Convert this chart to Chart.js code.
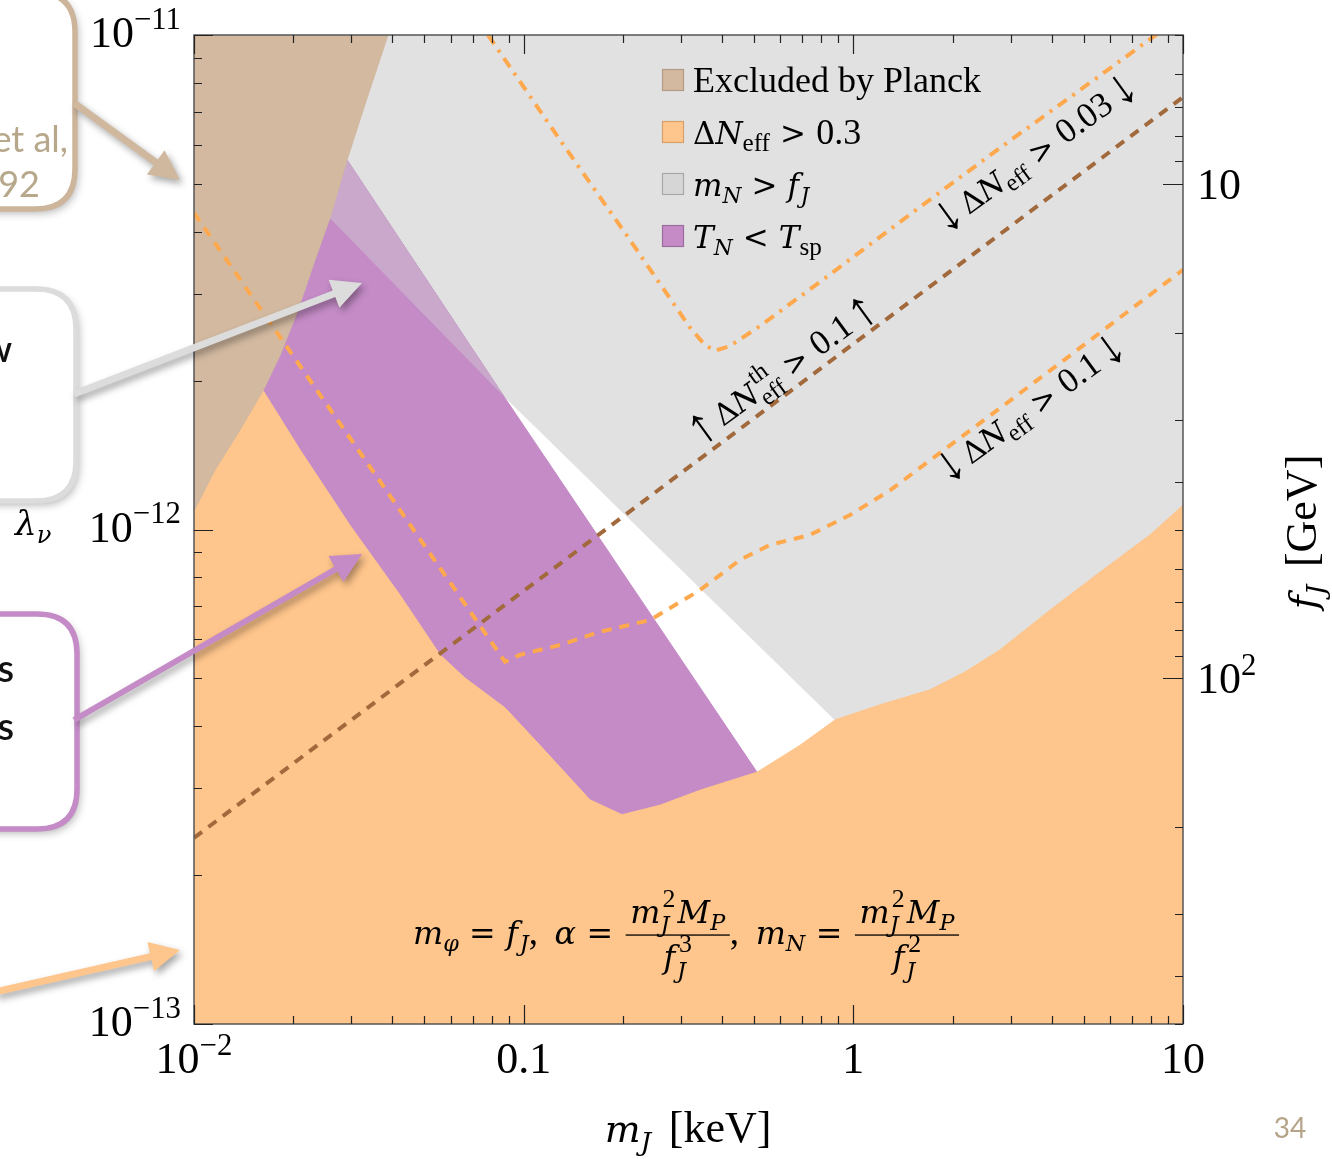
<!DOCTYPE html>
<html><head><meta charset="utf-8">
<script src="https://cdn.jsdelivr.net/npm/chart.js@4.4.1/dist/chart.umd.min.js"></script>
<style>html,body{margin:0;padding:0;background:#fff;overflow:hidden}canvas{display:block}</style>
</head><body>
<canvas id="c" width="1332" height="1159"></canvas>
<script>
// ---------- DATA (m_J in keV on x, lambda_nu on y) ----------
const planckX = [0.01, 0.03877, 0.03372, 0.02912, 0.02585, 0.02328, 0.02068, 0.01824, 0.0162, 0.01379, 0.01158, 0.01, 0.01];
const planckY = [1e-11, 1e-11, 7.56e-12, 5.59e-12, 4.27e-12, 3.51e-12, 2.78e-12, 2.25e-12, 1.91e-12, 1.59e-12, 1.32e-12, 1.09e-12, 1e-11];

const grayX = [0.01, 10, 10, 1.205, 0.8801, 0.08656, 0.02585, 0.01, 0.01];
const grayY = [1e-11, 1e-11, 1e-13, 1e-13, 4.12e-13, 1.87e-12, 4.27e-12, 4.27e-12, 1e-11];

const purpleX = [0.02912, 0.08656, 0.5104, 0.5104, 0.01, 0.01, 0.02912];
const purpleY = [5.59e-12, 1.87e-12, 3.23e-13, 1.78e-13, 1.78e-13, 5.59e-12, 5.59e-12];

const overlapX = [0.02912, 0.08656, 0.02585, 0.02411, 0.02773, 0.02912];
const overlapY = [5.59e-12, 1.87e-12, 4.27e-12, 4.27e-12, 5.59e-12, 5.59e-12];

const orangeX = [0.01, 0.01, 0.0162, 0.02097, 0.02972, 0.04216, 0.05576, 0.06637, 0.08778, 0.1121, 0.1589, 0.1988, 0.2591, 0.3426, 0.5104, 0.689, 0.8801, 1.205, 1.709, 2.182, 2.786, 3.951, 5.601, 7.941, 10, 10, 0.01];
const orangeY = [1e-13, 1.32e-12, 1.91e-12, 1.45e-12, 1.02e-12, 7.37e-13, 5.58e-13, 5.01e-13, 4.36e-13, 3.66e-13, 2.84e-13, 2.65e-13, 2.77e-13, 2.97e-13, 3.23e-13, 3.66e-13, 4.12e-13, 4.42e-13, 4.74e-13, 5.15e-13, 5.71e-13, 6.87e-13, 8.20e-13, 9.75e-13, 1.12e-12, 1e-13, 1e-13];

const thX = [0.01, 10];
const thY = [2.38e-13, 7.49e-12];

const dn01X = [0.01, 0.08778, 0.09748, 0.129, 0.1704, 0.2417, 0.3426, 0.4531, 0.5588, 0.7387, 0.977, 1.292, 1.709, 2.786, 4.236, 6.906, 10];
const dn01Y = [4.37e-12, 5.40e-13, 5.58e-13, 5.84e-13, 6.21e-13, 6.56e-13, 7.54e-13, 8.68e-13, 9.31e-13, 9.75e-13, 1.07e-12, 1.20e-12, 1.38e-12, 1.76e-12, 2.17e-12, 2.78e-12, 3.35e-12];

const dn003X = [0.07795, 0.129, 0.2101, 0.3196, 0.3548, 0.3805, 0.4226, 0.5212, 0.809, 1.593, 2.786, 4.87, 8.516];
const dn003Y = [1e-11, 6.13e-12, 3.85e-12, 2.56e-12, 2.36e-12, 2.30e-12, 2.35e-12, 2.58e-12, 3.20e-12, 4.49e-12, 5.91e-12, 7.74e-12, 1.014e-11];

// ticks
const xTickVals = [0.01, 0.1, 1, 10];
const xTickLabels = [['10', '−2'], ['0.1', ''], ['1', ''], ['10', '']];
const yTickVals = [1e-13, 1e-12, 1e-11];
const yTickLabels = [['10', '−13'], ['10', '−12'], ['10', '−11']];
const fTickVals = [10, 100];
const fTickLabels = [['10', ''], ['10', '2']];

const legendNames = ['Excluded by Planck', 'ΔN_eff > 0.3', 'm_N > f_J', 'T_N < T_sp'];

// ---------- STYLE ----------
const SERIF = '"Liberation Serif", "DejaVu Serif", serif';
const MATH = '"DejaVu Serif", serif';
const MS = 0.86; // size factor for math glyphs
const SANS = 'Lato, "Open Sans", "Noto Sans", sans-serif';
const C = {
  tan: '#d2b9a0', orange: '#fec58c', gray: '#e1e1e1', purple: '#c48bc6', overlap: '#c9a8cb',
  brown: '#a26a3c', orLine: '#ffa94f'
};

const pts = (xs, ys) => xs.map((x, i) => ({x: x, y: ys[i]}));
function region(data, color, order) {
  return {data: data, showLine: true, fill: 'shape', backgroundColor: color, borderColor: color,
    borderWidth: 1, pointRadius: 0, tension: 0, order: order};
}
function curve(data, color, dash, order) {
  return {data: data, showLine: true, fill: false, borderColor: color, borderWidth: 4,
    borderDash: dash, pointRadius: 0, tension: 0, order: order, borderCapStyle: 'butt'};
}

// ---------- rich text ----------
function segFont(s, size) {
  let sz = (s.sub || s.sup) ? size * 0.7 : size;
  if (s.k) sz *= s.k;
  if (s.it || s.m) return (s.it ? 'italic ' : '') + (sz * MS).toFixed(1) + 'px ' + MATH;
  return sz.toFixed(1) + 'px ' + SERIF;
}
function segW(ctx, s, size) {
  if (s.gap !== undefined) return s.gap * size;
  ctx.font = segFont(s, size);
  let w = ctx.measureText(s.t).width;
  if (s.sup2) { ctx.font = (size * 0.7).toFixed(1) + 'px ' + SERIF; w = Math.max(w, ctx.measureText(s.sup2).width + 2); }
  return w;
}
function segsW(ctx, segs, size) { let w = 0; for (const s of segs) w += segW(ctx, s, size); return w; }
function drawSegs(ctx, x, y, segs, size, align, color) {
  const w = segsW(ctx, segs, size);
  let cx = align === 'center' ? x - w / 2 : (align === 'right' ? x - w : x);
  ctx.fillStyle = color || '#000'; ctx.textAlign = 'left'; ctx.textBaseline = 'alphabetic';
  for (const s of segs) {
    const ww = segW(ctx, s, size);
    if (s.gap === undefined) {
      ctx.font = segFont(s, size);
      const dy = s.sub ? size * (s.sup2 ? 0.26 : 0.2) : (s.sup ? -size * 0.42 : (s.dy || 0) * size);
      ctx.fillText(s.t, cx, y + dy);
      if (s.sup2) { ctx.font = (size * 0.7).toFixed(1) + 'px ' + SERIF; ctx.fillText(s.sup2, cx + 2, y - size * 0.44); }
    }
    cx += ww;
  }
  return w;
}
function drawFrac(ctx, x, axisY, num, den, size) {
  const wn = segsW(ctx, num, size), wd = segsW(ctx, den, size);
  const w = Math.max(wn, wd) + 0.25 * size;
  ctx.fillStyle = '#000';
  ctx.fillRect(x, axisY - 0.6, w, 1.3);
  drawSegs(ctx, x + w / 2, axisY - 0.33 * size, num, size, 'center');
  drawSegs(ctx, x + w / 2, axisY + 0.9 * size, den, size, 'center');
  return w;
}
function rrect(ctx, x, y, w, h, r) {
  ctx.beginPath();
  ctx.moveTo(x + r, y); ctx.lineTo(x + w - r, y); ctx.quadraticCurveTo(x + w, y, x + w, y + r);
  ctx.lineTo(x + w, y + h - r); ctx.quadraticCurveTo(x + w, y + h, x + w - r, y + h);
  ctx.lineTo(x + r, y + h); ctx.quadraticCurveTo(x, y + h, x, y + h - r);
  ctx.lineTo(x, y + r); ctx.quadraticCurveTo(x, y, x + r, y); ctx.closePath();
}
function arrow(ctx, x1, y1, x2, y2, color, w, hl, hw) {
  const a = Math.atan2(y2 - y1, x2 - x1), c = Math.cos(a), s = Math.sin(a);
  const nx = -s, ny = c, bx = x2 - hl * c, by = y2 - hl * s;
  ctx.save();
  ctx.shadowColor = 'rgba(0,0,0,0.35)'; ctx.shadowBlur = 7; ctx.shadowOffsetX = 3; ctx.shadowOffsetY = 4;
  ctx.fillStyle = color;
  ctx.beginPath();
  ctx.moveTo(x1 + nx * w / 2, y1 + ny * w / 2);
  ctx.lineTo(bx + nx * w / 2, by + ny * w / 2);
  ctx.lineTo(bx + nx * hw / 2, by + ny * hw / 2);
  ctx.lineTo(x2, y2);
  ctx.lineTo(bx - nx * hw / 2, by - ny * hw / 2);
  ctx.lineTo(bx - nx * w / 2, by - ny * w / 2);
  ctx.lineTo(x1 - nx * w / 2, y1 - ny * w / 2);
  ctx.closePath(); ctx.fill();
  ctx.restore();
}

const REL = (ch) => [{gap: 0.28}, {t: ch, m: 1}, {gap: 0.28}];

const decor = {
  id: 'decor',
  afterDatasetsDraw(chart) {
    const ctx = chart.ctx, a = chart.chartArea;
    const sx = chart.scales.x, sy = chart.scales.y, sf = chart.scales.y2;
    ctx.save();
    // frame
    ctx.strokeStyle = '#555'; ctx.lineWidth = 1.5;
    ctx.strokeRect(a.left, a.top, a.right - a.left, a.bottom - a.top);
    // ticks
    ctx.strokeStyle = '#222'; ctx.lineWidth = 1.2;
    ctx.beginPath();
    for (let e = -2; e <= 1; e++) for (let k = 1; k <= 9; k++) {
      const v = k * Math.pow(10, e); if (v > 10.001) break;
      const px = Math.round(sx.getPixelForValue(v)) + 0.5, L = k === 1 ? 19 : 8;
      ctx.moveTo(px, a.bottom); ctx.lineTo(px, a.bottom - L);
      ctx.moveTo(px, a.top); ctx.lineTo(px, a.top + L);
    }
    for (let e = -13; e <= -11; e++) for (let k = 1; k <= 9; k++) {
      const v = k * Math.pow(10, e); if (v > 1.0001e-11) break;
      const py = Math.round(sy.getPixelForValue(v)) + 0.5, L = k === 1 ? 19 : 8;
      ctx.moveTo(a.left, py); ctx.lineTo(a.left + L, py);
    }
    for (let e = 0; e <= 2; e++) for (let k = 1; k <= 9; k++) {
      const v = k * Math.pow(10, e); if (v < 5 || v > 500.01) continue;
      const py = Math.round(sf.getPixelForValue(v)) + 0.5, L = k === 1 ? 20 : 8;
      ctx.moveTo(a.right, py); ctx.lineTo(a.right - L, py);
    }
    ctx.stroke();

    // tick labels
    const TS = 44;
    xTickVals.forEach((v, i) => {
      const lab = xTickLabels[i], segs = [{t: lab[0]}];
      if (lab[1]) segs.push({t: lab[1], sup: 1});
      drawSegs(ctx, sx.getPixelForValue(v), 1073, segs, TS, 'center');
    });
    yTickVals.forEach((v, i) => {
      const lab = yTickLabels[i];
      drawSegs(ctx, 181, sy.getPixelForValue(v) + 12, [{t: lab[0]}, {t: lab[1], sup: 1}], TS, 'right');
    });
    fTickVals.forEach((v, i) => {
      const lab = fTickLabels[i], segs = [{t: lab[0]}];
      if (lab[1]) segs.push({t: lab[1], sup: 1});
      drawSegs(ctx, 1197, sf.getPixelForValue(v) + 15, segs, TS, 'left');
    });

    // axis titles
    drawSegs(ctx, 688, 1142, [{t: 'm', it: 1}, {t: 'J', it: 1, sub: 1}, {gap: 0.4}, {t: '[keV]'}], 44, 'center');
    ctx.save(); ctx.translate(1316, 532); ctx.rotate(-Math.PI / 2);
    drawSegs(ctx, 0, 0, [{t: 'f', it: 1}, {t: 'J', it: 1, sub: 1}, {gap: 0.4}, {t: '[GeV]'}], 44, 'center');
    ctx.restore();
    drawSegs(ctx, 15, 535, [{t: 'λ', it: 1}, {t: 'ν', it: 1, sub: 1}], 40, 'left');

    // legend
    const legC = [[C.tan, '#b39b83'], [C.orange, '#d9a06c'], ['#d6d6d6', '#a8a8a8'], [C.purple, '#9b6c9d']];
    const legSegs = [
      [{t: legendNames[0]}],
      [{t: 'Δ', m: 1}, {t: 'N', it: 1}, {t: 'eff', sub: 1}].concat(REL('>'), [{t: '0.3'}]),
      [{t: 'm', it: 1}, {t: 'N', it: 1, sub: 1}].concat(REL('>'), [{t: 'f', it: 1}, {gap: 0.04}, {t: 'J', it: 1, sub: 1}]),
      [{t: 'T', it: 1}, {t: 'N', it: 1, sub: 1}].concat(REL('<'), [{t: 'T', it: 1}, {t: 'sp', sub: 1}])
    ];
    legSegs.forEach((segs, i) => {
      const cy = 80 + i * 52;
      ctx.fillStyle = legC[i][0]; ctx.fillRect(662, cy - 11, 22, 22);
      ctx.strokeStyle = legC[i][1]; ctx.lineWidth = 1.2; ctx.strokeRect(662.5, cy - 10.5, 21, 21);
      drawSegs(ctx, 693, cy + 12, segs, 36, 'left');
    });

    // rotated annotations
    const ang = 36 * Math.PI / 180, AS = 35;
    const arr = (ch) => ({t: ch, k: 1.5, dy: 0.08});
    const ann = [
      [1042, 162, [arr('↓'), {gap: 0.12}, {t: 'Δ', m: 1}, {t: 'N', it: 1}, {t: 'eff', sub: 1}].concat(REL('>'), [{t: '0.03'}, {gap: 0.12}, arr('↓')])],
      [789, 379, [arr('↑'), {gap: 0.12}, {t: 'Δ', m: 1}, {t: 'N', it: 1}, {t: 'eff', sub: 1, sup2: 'th'}].concat(REL('>'), [{t: '0.1'}, {gap: 0.12}, arr('↑')])],
      [1037, 417, [arr('↓'), {gap: 0.12}, {t: 'Δ', m: 1}, {t: 'N', it: 1}, {t: 'eff', sub: 1}].concat(REL('>'), [{t: '0.1'}, {gap: 0.12}, arr('↓')])]
    ];
    ann.forEach(([x, y, segs]) => {
      ctx.save(); ctx.translate(x, y); ctx.rotate(-ang);
      drawSegs(ctx, 0, 0, segs, AS, 'center'); ctx.restore();
    });

    // formula
    const FS = 37, fb = 944, ax = fb - 9;
    let cx = 413;
    cx += drawSegs(ctx, cx, fb, [{t: 'm', it: 1}, {t: 'φ', it: 1, sub: 1}].concat(REL('='),
      [{t: 'f', it: 1}, {gap: 0.05}, {t: 'J', it: 1, sub: 1}, {t: ','}, {gap: 0.45}, {t: 'α', it: 1}], REL('='), [{gap: 0.06}]), FS, 'left');
    const num = [{t: 'm', it: 1}, {t: 'J', it: 1, sub: 1, sup2: '2'}, {gap: 0.06}, {t: 'M', it: 1}, {t: 'P', it: 1, sub: 1}];
    cx += drawFrac(ctx, cx, ax, num, [{t: 'f', it: 1}, {gap: 0.05}, {t: 'J', it: 1, sub: 1, sup2: '3'}], FS);
    cx += drawSegs(ctx, cx, fb, [{t: ','}, {gap: 0.45}, {t: 'm', it: 1}, {t: 'N', it: 1, sub: 1}].concat(REL('='), [{gap: 0.06}]), FS, 'left');
    drawFrac(ctx, cx, ax, num, [{t: 'f', it: 1}, {gap: 0.05}, {t: 'J', it: 1, sub: 1, sup2: '2'}], FS);
    ctx.restore();
  },
  afterDraw(chart) {
    const ctx = chart.ctx;
    ctx.save();
    const boxes = [[-60, -8, 135, 217, '#cdb59c'], [-60, 289, 136, 212, '#dcdcdc'], [-60, 614, 137, 215, C.purple]];
    boxes.forEach(([x, y, w, h, col]) => {
      ctx.save();
      ctx.shadowColor = 'rgba(0,0,0,0.3)'; ctx.shadowBlur = 8; ctx.shadowOffsetX = 3; ctx.shadowOffsetY = 4;
      rrect(ctx, x, y, w, h, 40); ctx.fillStyle = '#fff'; ctx.fill();
      ctx.shadowColor = 'rgba(0,0,0,0)';
      ctx.lineWidth = 5.5; ctx.strokeStyle = col; ctx.stroke();
      ctx.restore();
    });
    ctx.textAlign = 'right'; ctx.textBaseline = 'alphabetic';
    ctx.fillStyle = '#b7a78b'; ctx.font = '36px ' + SANS;
    ctx.fillText('et al,', 68, 152);
    ctx.fillText('592', 40, 197);
    ctx.fillStyle = '#111'; ctx.font = '600 36px ' + SANS;
    ctx.fillText('w', 12, 362);
    ctx.font = '600 38px ' + SANS;
    ctx.fillText('s', 14, 682);
    ctx.fillText('s', 14, 740);
    arrow(ctx, 74, 103, 180, 180, '#d0b89f', 7, 30, 30);
    arrow(ctx, 74, 394, 362, 283, '#dcdcdc', 7, 30, 30);
    arrow(ctx, 74, 720, 362, 554, C.purple, 6, 30, 30);
    arrow(ctx, -5, 992, 180, 950, '#fec58c', 7, 30, 30);
    ctx.textAlign = 'center'; ctx.fillStyle = '#b5a488'; ctx.font = '28px ' + SANS;
    ctx.fillText('34', 1290, 1138);
    ctx.restore();
  }
};

new Chart(document.getElementById('c'), {
  type: 'scatter',
  data: {
    datasets: [
      curve(pts(thX, thY), C.brown, [10, 8], 1),
      curve(pts(dn01X, dn01Y), C.orLine, [10, 8], 2),
      curve(pts(dn003X, dn003Y), C.orLine, [11, 7, 3, 7], 3),
      region(pts(planckX, planckY), C.tan, 4),
      region(pts(orangeX, orangeY), C.orange, 5),
      region(pts(overlapX, overlapY), C.overlap, 6),
      region(pts(purpleX, purpleY), C.purple, 7),
      region(pts(grayX, grayY), C.gray, 8)
    ]
  },
  options: {
    responsive: false, animation: false, events: [],
    layout: {padding: {left: 194, top: 35, right: 149, bottom: 135}},
    plugins: {legend: {display: false}, tooltip: {enabled: false}},
    scales: {
      x: {type: 'logarithmic', min: 0.01, max: 10, display: false},
      y: {type: 'logarithmic', min: 1e-13, max: 1e-11, display: false},
      y2: {type: 'logarithmic', position: 'right', min: 5, max: 500, reverse: true, display: false}
    }
  },
  plugins: [decor]
});
</script>
</body></html>
